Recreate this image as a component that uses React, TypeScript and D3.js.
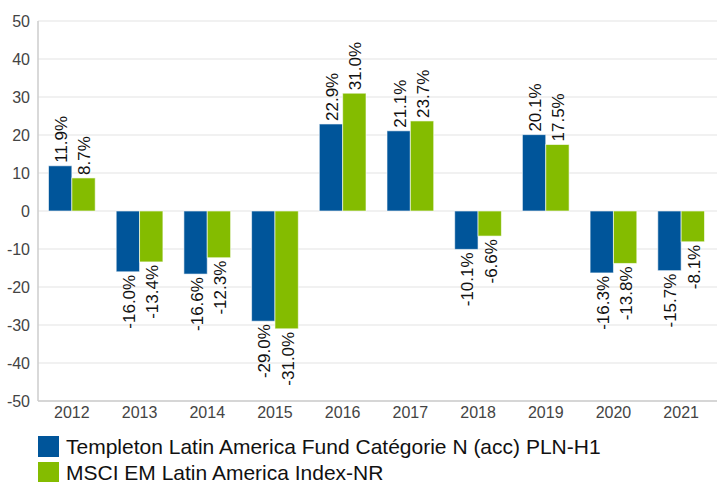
import React from 'react';
import * as d3 from 'd3';

const years = ['2012', '2013', '2014', '2015', '2016', '2017', '2018', '2019', '2020', '2021'];
const fund = [11.9, -16.0, -16.6, -29.0, 22.9, 21.1, -10.1, 20.1, -16.3, -15.7];
const index = [8.7, -13.4, -12.3, -31.0, 31.0, 23.7, -6.6, 17.5, -13.8, -8.1];
const seriesNames = ['Templeton Latin America Fund Catégorie N (acc) PLN-H1', 'MSCI EM Latin America Index-NR'];
const colors = ['#00559a', '#84bc00'];
const yTicks = [50, 40, 30, 20, 10, 0, -10, -20, -30, -40, -50];

const W = 717;
const H = 482;
const margin = { left: 38, right: 2, top: 21, bottom: 81 };
const font = '"Liberation Sans", Arial, sans-serif';

export default function App() {
  const x = d3.scaleBand().domain(years).range([margin.left, W - margin.right]).paddingInner(0.31).paddingOuter(0.155);
  const y = d3.scaleLinear().domain([-50, 50]).range([H - margin.bottom, margin.top]);
  const series = [fund, index];
  const bw = x.bandwidth() / 2;

  return (
    <svg width={W} height={H} style={{ position: 'absolute', left: 0, top: 0, fontFamily: font }}>
      <rect width={W} height={H} fill="#fff" />
      {yTicks.map(t => (
        <g key={t}>
          <line x1={margin.left} x2={W} y1={y(t)} y2={y(t)} stroke="#e3e3e3" strokeWidth={1} />
          <text x={margin.left - 8} y={y(t)} dy="0.35em" textAnchor="end" fontSize={16} fill="#444">{t}</text>
        </g>
      ))}
      <line x1={margin.left} x2={margin.left} y1={margin.top} y2={y(-50)} stroke="#ccc" strokeWidth={1.5} />
      <line x1={margin.left} x2={W} y1={y(-50)} y2={y(-50)} stroke="#ccc" strokeWidth={1.5} />
      {years.map(yr => (
        <text key={yr} x={x(yr)! + x.bandwidth() / 2} y={y(-50) + 17} textAnchor="middle" fontSize={16} fill="#444">{yr}</text>
      ))}
      {series.map((vals, si) => (
        <g key={si}>
          {vals.map((v, i) => {
            const bx = x(years[i])! + si * bw;
            const top = y(Math.max(0, v));
            const bot = y(Math.min(0, v));
            const cx = bx + bw / 2;
            const ly = v >= 0 ? top - 3 : bot + 3;
            return (
              <g key={i}>
                <rect x={bx} y={top} width={bw} height={bot - top} fill={colors[si]} stroke="#fff" strokeOpacity={0.6} strokeWidth={1} />
                <text
                  transform={`translate(${cx + 1},${ly}) rotate(-90)`}
                  dy="0.35em"
                  textAnchor={v >= 0 ? 'start' : 'end'}
                  fontSize={17}
                  fill="#111"
                >{v.toFixed(1)}%</text>
              </g>
            );
          })}
        </g>
      ))}
      {seriesNames.map((n, i) => (
        <g key={n} transform={`translate(${margin.left},${436 + i * 26})`}>
          <rect width={21} height={21} fill={colors[i]} />
          <text x={28} y={11} dy="0.35em" fontSize={21} fill="#111">{n}</text>
        </g>
      ))}
    </svg>
  );
}
